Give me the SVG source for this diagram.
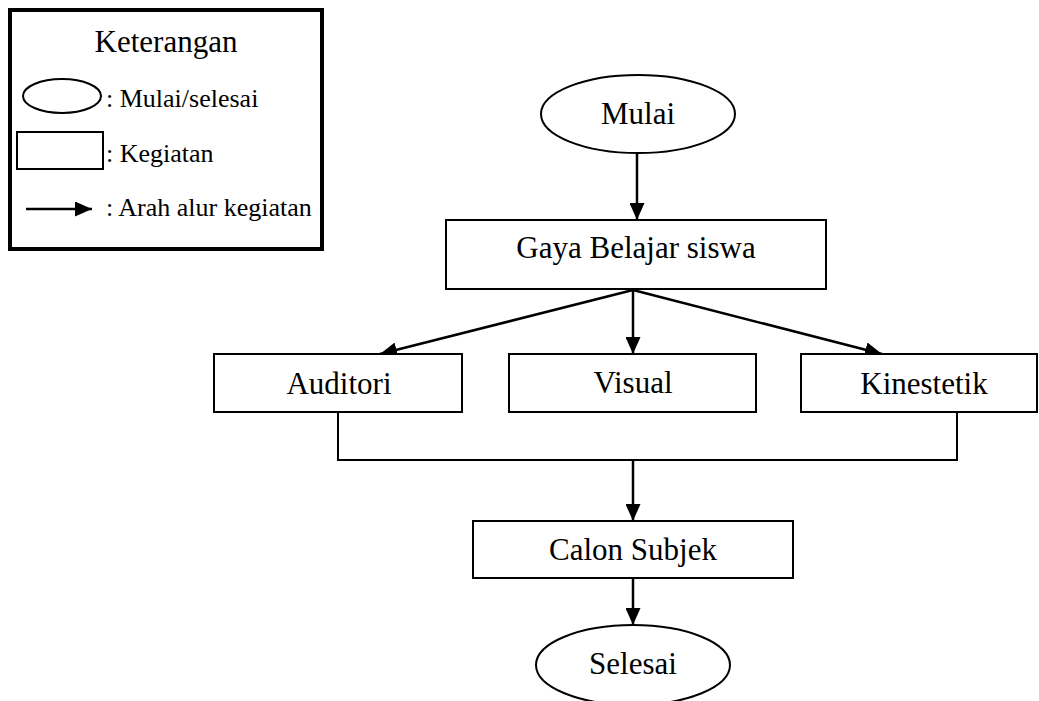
<svg xmlns="http://www.w3.org/2000/svg" width="1039" height="701" viewBox="0 0 1039 701">
  <style>
    .shape { fill: #ffffff; stroke: #000000; stroke-width: 2; }
    .conn { fill: none; stroke: #000000; stroke-width: 2.5; }
    .plain { fill: none; stroke: #000000; stroke-width: 2; }
    .t { font-family: "Liberation Serif", "Times New Roman", serif; font-size: 31px; fill: #000000; }
    .lt { font-family: "Liberation Serif", "Times New Roman", serif; font-size: 26px; fill: #000000; }
    .mid { text-anchor: middle; }
  </style>
  <defs>
    <marker id="arrow" markerUnits="userSpaceOnUse" markerWidth="17" markerHeight="15" refX="17" refY="7.5" orient="auto">
      <path d="M0,0 L17,7.5 L0,15 z" fill="#000000"/>
    </marker>
  </defs>
  <rect width="1039" height="701" fill="#ffffff"/>

  <g id="legend">
    <rect x="10" y="10" width="312" height="239" fill="#ffffff" stroke="#000000" stroke-width="4"/>
    <text class="t mid" x="166" y="52">Keterangan</text>
    <ellipse cx="62" cy="96" rx="39" ry="17" class="shape"/>
    <text class="lt" x="106" y="107">: Mulai/selesai</text>
    <rect x="17" y="132" width="86" height="37" class="shape"/>
    <text class="lt" x="106" y="162">: Kegiatan</text>
    <line x1="26" y1="209" x2="92" y2="209" class="conn" marker-end="url(#arrow)"/>
    <text class="lt" x="106" y="216">: Arah alur kegiatan</text>
  </g>

  <g id="connectors">
    <line x1="637" y1="153" x2="637" y2="220" class="conn" marker-end="url(#arrow)"/>
    <line x1="633" y1="290" x2="380" y2="354" class="conn" marker-end="url(#arrow)"/>
    <line x1="633" y1="290" x2="633" y2="354" class="conn" marker-end="url(#arrow)"/>
    <line x1="633" y1="290" x2="882" y2="354" class="conn" marker-end="url(#arrow)"/>
    <polyline points="338,412 338,460 957,460 957,412" class="plain"/>
    <line x1="633" y1="460" x2="633" y2="521" class="conn" marker-end="url(#arrow)"/>
    <line x1="633" y1="578" x2="633" y2="625" class="conn" marker-end="url(#arrow)"/>
  </g>

  <g id="mulai">
    <ellipse cx="638" cy="114" rx="97" ry="39" class="shape"/>
    <text class="t mid" x="638" y="124">Mulai</text>
  </g>

  <g id="gaya-belajar">
    <rect x="446" y="220" width="380" height="69" class="shape"/>
    <text class="t mid" x="636" y="258">Gaya Belajar siswa</text>
  </g>

  <g id="auditori">
    <rect x="214" y="354" width="248" height="58" class="shape"/>
    <text class="t mid" x="339" y="394">Auditori</text>
  </g>

  <g id="visual">
    <rect x="509" y="354" width="247" height="58" class="shape"/>
    <text class="t mid" x="633" y="393">Visual</text>
  </g>

  <g id="kinestetik">
    <rect x="801" y="354" width="236" height="58" class="shape"/>
    <text class="t mid" x="924" y="394">Kinestetik</text>
  </g>

  <g id="calon-subjek">
    <rect x="473" y="521" width="320" height="57" class="shape"/>
    <text class="t mid" x="633" y="560">Calon Subjek</text>
  </g>

  <g id="selesai">
    <ellipse cx="633" cy="665" rx="97" ry="40" class="shape"/>
    <text class="t mid" x="633" y="674">Selesai</text>
  </g>
</svg>
